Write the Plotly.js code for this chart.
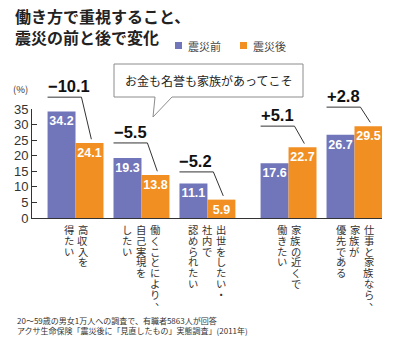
<!DOCTYPE html>
<html>
<head>
<meta charset="utf-8">
<script src="https://cdn.plot.ly/plotly-3.0.1.min.js"></script>
<style>html,body{margin:0;padding:0;background:#fff;}#chart{width:400px;height:355px;}</style>
</head>
<body>
<div id="chart"></div>
<script>
// ---------- DATA ----------
const categories = [
  "高収入を\n得たい",
  "働くことにより、\n自己実現を\nしたい",
  "出世をしたい・\n社内で\n認められたい",
  "家族の近くで\n働きたい",
  "仕事と家族なら、\n家族が\n優先である"
];
const seriesNames = ["震災前", "震災後"];
const before = [34.2, 19.3, 11.1, 17.6, 26.7];
const after  = [24.1, 13.8, 5.9, 22.7, 29.5];
const titleText = "働き方で重視すること、<br>震災の前と後で変化";
const calloutText = "お金も名誉も家族があってこそ";
const unitLabel = "(%)";
const notes = [
  "20〜59歳の男女1万人への調査で、有職者5863人が回答",
  "アクサ生命保険「震災後に「見直したもの」実態調査」(2011年)"
];

// ---------- STYLE / LAYOUT ----------
const colors = ["#7175b9", "#f28f22"];
const CJK = "'Noto Sans CJK JP', 'Noto Sans', sans-serif";
const NUM = "'Liberation Sans Narrow', 'Liberation Sans', Arial, sans-serif";
const W = 400, H = 355;
const M = {l: 32, r: 18, t: 109, b: 137};
const plotW = W - M.l - M.r, plotH = H - M.t - M.b;
const xRange = [-0.66, 4.647], yRange = [0, 35];
const px = x => (x - M.l) / plotW;          // pixel -> paper x
const py = y => (H - M.b - y) / plotH;      // pixel -> paper y
const dx = x => (x - xRange[0]) / (xRange[1] - xRange[0]);   // data -> paper x
const dy = y => (y - yRange[0]) / (yRange[1] - yRange[0]);   // data -> paper y
const barW = 0.424;
const groupX = categories.map((c, i) => i + (i > 2 ? 0.23 : 0));
const bracketY = [38.8, 24.1, 14.8, 29.5, 35.6];   // height of the difference brackets

const traces = [before, after].map((vals, s) => ({
  type: "bar",
  name: seriesNames[s],
  x: groupX,
  y: vals,
  width: barW,
  offset: s === 0 ? -barW : 0,
  marker: {color: colors[s], line: {width: 0}},
  text: vals.map(v => v.toFixed(1)),
  textposition: "inside",
  insidetextanchor: "end",
  textangle: 0,
  constraintext: "none",
  textfont: {family: NUM, size: 12.5, color: "#ffffff", weight: 700},
  hoverinfo: "skip",
  showlegend: false
}));

const shapes = [];
const annotations = [];

// difference brackets and labels
groupX.forEach((gx, i) => {
  const d = after[i] - before[i];
  const label = (d < 0 ? "\u2212" : "+") + Math.abs(d).toFixed(1);
  const left = gx - barW;
  shapes.push({
    type: "path", xref: "paper", yref: "paper",
    path: `M ${dx(left)} ${dy(bracketY[i])} L ${dx(gx + 0.09)} ${dy(bracketY[i])} L ${dx(gx + 0.24)} ${dy(after[i] + 1.2)}`,
    line: {color: "#333", width: 1}
  });
  annotations.push({
    xref: "paper", yref: "paper", x: dx(left), y: dy(bracketY[i]), xanchor: "left", yanchor: "bottom",
    xshift: -2, yshift: 0, showarrow: false, text: label,
    font: {family: NUM, size: 16.5, color: "#111", weight: 700}
  });
});

// vertical category labels (tategaki): columns right-to-left, one glyph per cell
const colSpacing = 14, charStep = 10.8, firstCharY = 229.5;
categories.forEach((cat, i) => {
  const cols = cat.split("\n");
  const n = cols.length;
  cols.forEach((col, c) => {
    const xoff = ((n - 1) / 2 - c) * colSpacing;
    [...col].forEach((ch, k) => {
      const punct = (ch === "、" || ch === "。");
      annotations.push({
        xref: "x", yref: "paper", x: groupX[i], y: py(firstCharY + k * charStep),
        xshift: xoff + (punct ? 5 : 0), yshift: punct ? 5 : 0,
        xanchor: "center", yanchor: "middle", showarrow: false, text: ch, borderpad: 0,
        font: {family: CJK, size: 10.3, color: "#333"}
      });
    });
  });
});

// callout bubble
shapes.push({
  type: "path", xref: "paper", yref: "paper",
  path: `M ${px(114)} ${py(64)} L ${px(303)} ${py(64)} L ${px(303)} ${py(97)} L ${px(172)} ${py(97)} L ${px(153)} ${py(117)} L ${px(155)} ${py(97)} L ${px(114)} ${py(97)} Z`,
  fillcolor: "#ffffff", line: {color: "#8c8c8c", width: 1}
});
annotations.push({
  xref: "paper", yref: "paper", x: px(208.5), y: py(80.5), xanchor: "center", yanchor: "middle",
  showarrow: false, text: calloutText, font: {family: CJK, size: 12, color: "#222"}
});

// legend (manual)
const legendX = [175, 240];
seriesNames.forEach((nm, s) => {
  shapes.push({
    type: "rect", xref: "paper", yref: "paper",
    x0: px(legendX[s]), x1: px(legendX[s] + 7), y0: py(42), y1: py(49),
    fillcolor: colors[s], line: {width: 0}
  });
  annotations.push({
    xref: "paper", yref: "paper", x: px(legendX[s] + 11), y: py(45.5), xanchor: "left", yanchor: "middle",
    showarrow: false, text: nm, font: {family: CJK, size: 11, color: "#444"}
  });
});

// unit label
annotations.push({
  xref: "paper", yref: "paper", x: px(20), y: py(89), xanchor: "center", yanchor: "middle",
  showarrow: false, text: unitLabel, font: {family: CJK, size: 9.5, color: "#333"}
});

// notes
notes.forEach((t, k) => {
  annotations.push({
    xref: "paper", yref: "paper", x: px(15), y: py(320.5 + k * 10), xanchor: "left", yanchor: "middle",
    showarrow: false, text: t, font: {family: CJK, size: 8, color: "#333"}
  });
});

const layout = {
  width: W, height: H,
  margin: M,
  paper_bgcolor: "#ffffff", plot_bgcolor: "#ffffff",
  barmode: "overlay",
  title: {
    text: titleText, xref: "container", yref: "container",
    x: 15 / W, xanchor: "left", y: 1 - 23 / H, yanchor: "top",
    font: {family: CJK, size: 16, color: "#222", weight: 700}
  },
  xaxis: {
    range: xRange, showgrid: false, zeroline: false, showticklabels: false, ticks: "",
    showline: true, linecolor: "#333", linewidth: 1, fixedrange: true
  },
  yaxis: {
    range: yRange, dtick: 5, tick0: 0, showgrid: false, zeroline: false,
    showline: true, linecolor: "#333", linewidth: 1,
    ticks: "inside", ticklen: 5, tickcolor: "#333", tickwidth: 1,
    tickfont: {family: NUM, size: 13, color: "#333"}, fixedrange: true
  },
  shapes: shapes,
  annotations: annotations,
  showlegend: false
};

Plotly.newPlot("chart", traces, layout, {staticPlot: true, displayModeBar: false});
</script>
</body>
</html>
